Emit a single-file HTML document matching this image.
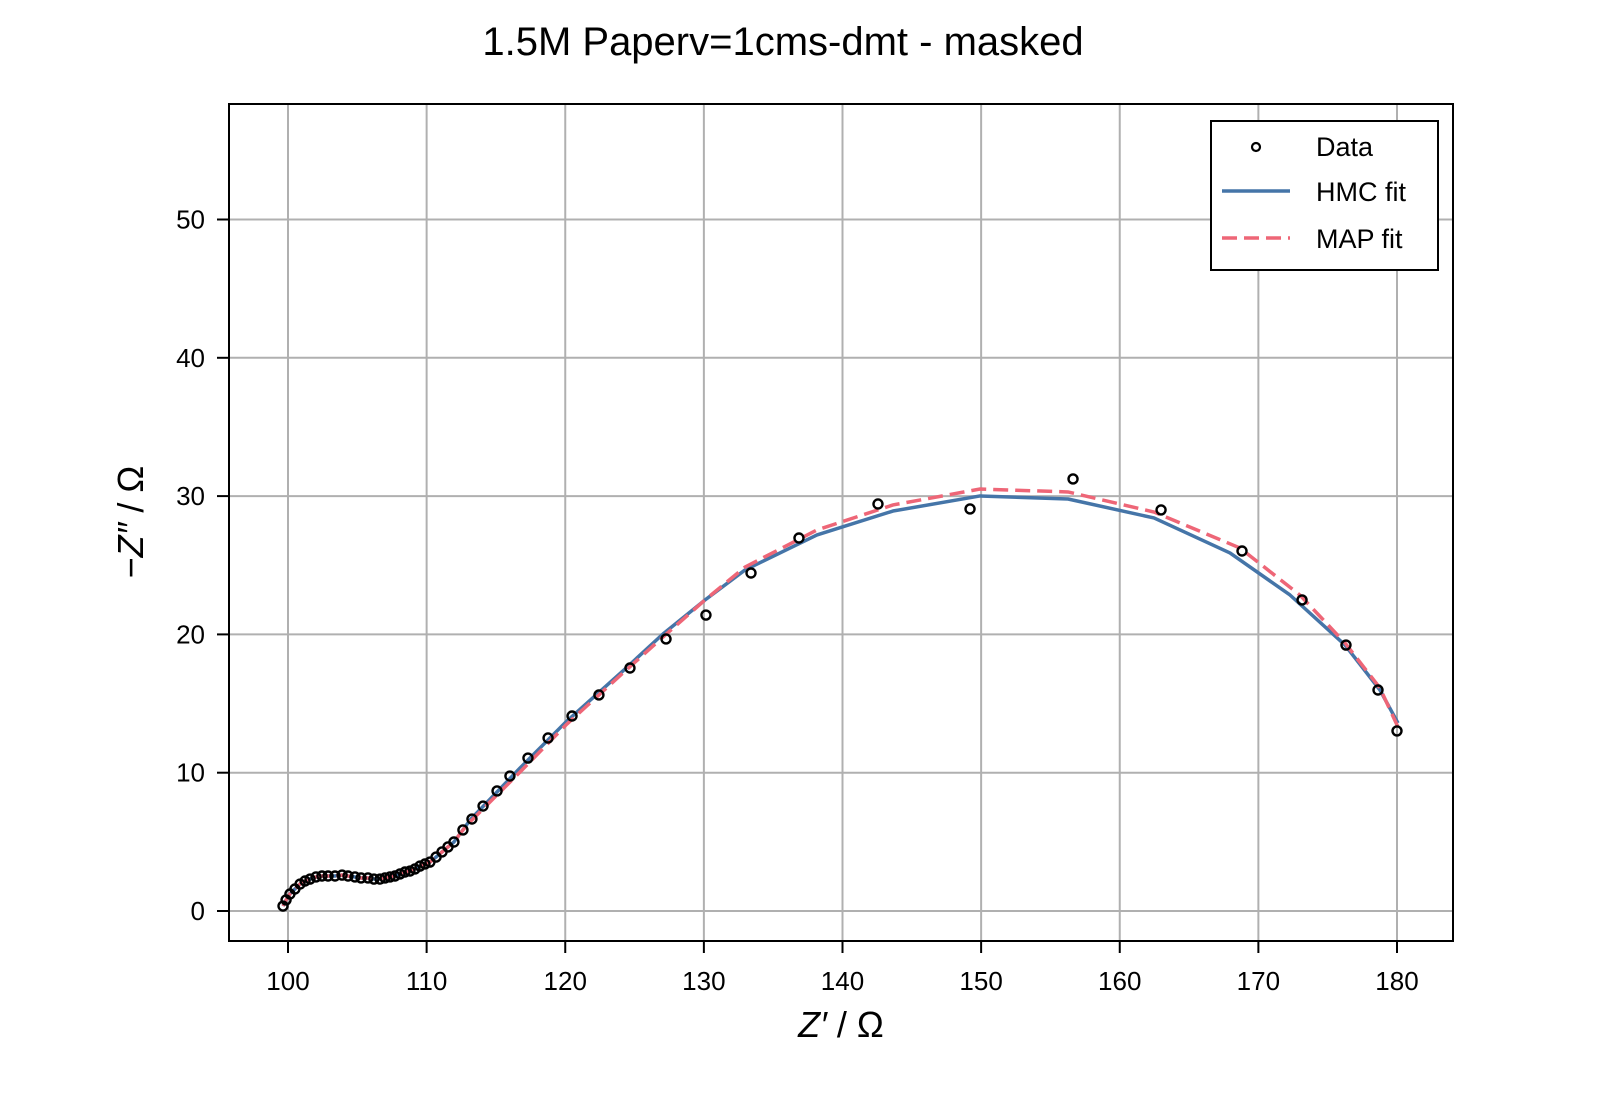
<!DOCTYPE html>
<html><head><meta charset="utf-8"><style>
body{margin:0;background:#fff}
svg text{font-family:"Liberation Sans",sans-serif;fill:#000}
</style></head><body>
<svg id="chart" width="1600" height="1100" viewBox="0 0 1600 1100">
<rect width="1600" height="1100" fill="#fff"/>
<text x="783" y="55" font-size="40" text-anchor="middle">1.5M Paperv=1cms-dmt - masked</text>
<g id="grid"></g>
<g id="ticks"></g>
<g id="series"></g>
<rect x="229" y="104" width="1224" height="837" fill="none" stroke="#000" stroke-width="2"/>
<text x="841" y="1037" font-size="36" text-anchor="middle"><tspan font-style="italic">Z′</tspan> / Ω</text>
<text transform="translate(143,522) rotate(-90)" font-size="36" text-anchor="middle">−<tspan font-style="italic">Z″</tspan> / Ω</text>
<g>
<rect x="1211" y="121" width="227" height="149" fill="#fff" stroke="#000" stroke-width="2"/>
<circle cx="1256" cy="147" r="4" fill="#fff" stroke="#000" stroke-width="2.2"/>
<text x="1316" y="156" font-size="27">Data</text>
<line x1="1222" y1="191" x2="1290" y2="191" stroke="#4575a8" stroke-width="3.5"/>
<text x="1316" y="201" font-size="27">HMC fit</text>
<line x1="1222" y1="238" x2="1290" y2="238" stroke="#ee6677" stroke-width="3.5" stroke-dasharray="15,7"/>
<text x="1316" y="248" font-size="27">MAP fit</text>
</g>
</svg>
<script>
const xTicks=[100,110,120,130,140,150,160,170,180];
const yTicks=[0,10,20,30,40,50];
const dataX=[99.64,99.86,100.14,100.50,100.87,101.23,101.59,102.02,102.45,102.89,103.39,103.90,104.33,104.83,105.27,105.77,106.20,106.64,107.00,107.36,107.72,108.08,108.44,108.80,109.16,109.52,109.88,110.24,110.68,111.11,111.54,111.97,112.62,113.27,114.07,115.08,116.01,117.31,118.76,120.49,122.43,124.67,127.27,130.15,133.40,136.86,142.56,149.20,156.63,162.98,168.82,173.15,176.32,178.63,180.0];
const dataY=[0.36,0.80,1.23,1.59,1.95,2.17,2.31,2.46,2.53,2.53,2.53,2.60,2.53,2.46,2.39,2.39,2.31,2.31,2.39,2.46,2.53,2.68,2.82,2.89,3.04,3.25,3.40,3.54,3.90,4.27,4.63,4.99,5.86,6.65,7.59,8.68,9.76,11.06,12.51,14.10,15.62,17.57,19.67,21.40,24.44,26.97,29.43,29.07,31.24,29.00,26.03,22.49,19.23,15.98,13.02];
const hmcX=[113.13,116.74,120.05,124.24,127.05,130.08,132.97,138.16,143.64,149.92,156.27,162.47,167.95,172.28,176.25,178.77,180.07];
const hmcY=[6.58,10.34,13.67,17.43,20.03,22.49,24.66,27.19,28.92,30.01,29.79,28.42,25.89,22.85,19.23,15.98,13.59];
const mapX=[113.13,116.74,120.05,124.24,127.05,130.08,132.97,138.16,143.64,149.92,156.27,162.47,168.67,172.99,176.25,178.77,180.07];
const mapY=[6.44,10.05,13.45,17.28,19.81,22.49,24.87,27.55,29.36,30.51,30.30,28.85,26.25,22.85,19.38,16.12,13.30];
const X=v=>288+(v-100)*13.8625, Y=v=>911-v*13.83;
const NS="http://www.w3.org/2000/svg";
function mk(tag,parent,attrs){const e=document.createElementNS(NS,tag);for(const k in attrs)e.setAttribute(k,attrs[k]);parent.appendChild(e);return e;}
const grid=document.getElementById('grid'),ticks=document.getElementById('ticks'),series=document.getElementById('series');
xTicks.forEach(t=>{
 const g=mk('line',grid,{x1:X(t),x2:X(t),y1:104,y2:941,stroke:'#b0b0b0','stroke-width':2});
 
 
 const k=mk('line',ticks,{x1:X(t),x2:X(t),y1:941,y2:953,stroke:'#000','stroke-width':2});
 
 
 const l=mk('text',ticks,{x:X(t),y:990,'font-size':26,'text-anchor':'middle'});l.textContent=t;
 
 
});
yTicks.forEach(t=>{
 const g=mk('line',grid,{x1:229,x2:1453,y1:Y(t),y2:Y(t),stroke:'#b0b0b0','stroke-width':2});
 
 
 const k=mk('line',ticks,{x1:217,x2:229,y1:Y(t),y2:Y(t),stroke:'#000','stroke-width':2});
 
 
 const l=mk('text',ticks,{x:205,y:Y(t)+9,'font-size':26,'text-anchor':'end'});l.textContent=t;
 
 
});
const lowX=dataX.filter(v=>v<113), lowY=dataY.slice(0,lowX.length);
function pts(xs,ys){return xs.map((v,i)=>X(v)+','+Y(ys[i])).join(' ');}
const h=mk('polyline',series,{points:pts(lowX.concat(hmcX),lowY.concat(hmcY)),fill:'none',stroke:'#4575a8','stroke-width':3.5,'stroke-linejoin':'round'});


const m=mk('polyline',series,{points:pts(lowX.concat(mapX),lowY.concat(mapY)),fill:'none',stroke:'#ee6677','stroke-width':3.5,'stroke-dasharray':'15,7'});


dataX.forEach((v,i)=>{
 const c=mk('circle',series,{cx:X(v),cy:Y(dataY[i]),r:4.5,fill:'none',stroke:'#000','stroke-width':2.4});
 
 
});
</script>
</body></html>
